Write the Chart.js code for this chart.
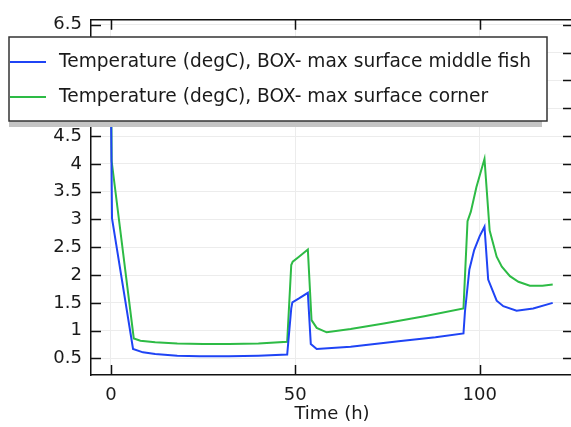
<!DOCTYPE html>
<html>
<head>
<meta charset="utf-8">
<script src="https://cdn.jsdelivr.net/npm/chart.js@4.4.1/dist/chart.umd.min.js"></script>
<style>
  html, body { margin: 0; padding: 0; overflow: hidden; background: #fff; }
  #wrap { position: absolute; left: 0; top: 0; width: 590px; height: 427px; }
</style>
</head>
<body>
<div id="wrap"><canvas id="tempChart" width="590" height="427"></canvas></div>
<script>
// ===============================
// Data
// ===============================
const seriesLabels = [
    "Temperature (degC), BOX- max surface middle fish",
    "Temperature (degC), BOX- max surface corner"
];

const blueTime = [0, 0.3, 6.0, 8.7, 12, 18, 24, 32, 40, 47.8, 48.9, 49.2, 51, 53.4, 54.2, 55.8, 65, 78, 88, 95.6, 96.0, 97.2, 98.5, 100, 101.3, 102.3, 104.6, 106.4, 110, 114.5, 119.8];
const blueTemp = [5.2, 3.02, 0.67, 0.61, 0.58, 0.55, 0.54, 0.54, 0.55, 0.57, 1.40, 1.51, 1.58, 1.68, 0.76, 0.67, 0.71, 0.81, 0.88, 0.95, 1.34, 2.10, 2.45, 2.70, 2.87, 1.92, 1.54, 1.44, 1.36, 1.40, 1.50];

const greenTime = [0, 0.2, 6.2, 8, 12, 18, 25, 32, 40, 47.8, 48.9, 49.3, 51, 53.4, 54.4, 55.8, 58.5, 65, 74, 85, 95.6, 96.7, 97.6, 99.1, 101.3, 102.7, 104.6, 106, 108.2, 110.5, 113.6, 117, 119.8];
const greenTemp = [6.2, 4.05, 0.86, 0.82, 0.79, 0.77, 0.76, 0.76, 0.77, 0.80, 2.18, 2.24, 2.33, 2.46, 1.19, 1.05, 0.97, 1.03, 1.13, 1.26, 1.40, 2.97, 3.14, 3.58, 4.09, 2.80, 2.33, 2.15, 1.98, 1.88, 1.81, 1.81, 1.83];

const xTicks = [0, 50, 100];
const yTicks = [0.5, 1, 1.5, 2, 2.5, 3, 3.5, 4, 4.5, 5, 5.5, 6, 6.5];

const BLUE = "#1f44f5";
const GREEN = "#2dbb45";
const FONT = "'DejaVu Sans', sans-serif";
const FONT_SIZE = 18;
const LEGEND_SIZE = 18.6;

function toPoints(xs, ys) {
    return xs.map((x, i) => ({ x: x, y: ys[i] }));
}

// ===============================
// Frame, inward ticks and legend box
// ===============================
const framePlugin = {
    id: "frame",
    afterDraw(chart) {
        const ctx = chart.ctx;
        const a = chart.chartArea;
        const xs = chart.scales.x;
        const ys = chart.scales.y;
        const tl = 10;

        ctx.save();
        ctx.strokeStyle = "#111";
        ctx.lineWidth = 1.5;
        ctx.beginPath();
        ctx.moveTo(a.left, a.top);
        ctx.lineTo(a.right, a.top);
        ctx.lineTo(a.right, a.bottom);
        ctx.stroke();

        ctx.beginPath();
        xTicks.forEach(v => {
            const px = Math.round(xs.getPixelForValue(v)) + 0.5;
            ctx.moveTo(px, a.bottom);
            ctx.lineTo(px, a.bottom - tl);
            ctx.moveTo(px, a.top);
            ctx.lineTo(px, a.top + tl);
        });
        yTicks.forEach(v => {
            const py = Math.round(ys.getPixelForValue(v)) + 0.5;
            ctx.moveTo(a.left, py);
            ctx.lineTo(a.left + tl, py);
            ctx.moveTo(a.right, py);
            ctx.lineTo(a.right - tl, py);
        });
        ctx.stroke();

        // legend
        const bx = 9, by = 37, bw = 538, bh = 84;
        ctx.fillStyle = "#c4c4c4";
        ctx.fillRect(bx, by + bh, bw - 5, 6);
        ctx.fillStyle = "#fff";
        ctx.fillRect(bx, by, bw, bh);
        ctx.strokeStyle = "#333";
        ctx.lineWidth = 1.5;
        ctx.strokeRect(bx, by, bw, bh);

        const rows = [62, 97];
        chart.data.datasets.forEach((ds, i) => {
            ctx.strokeStyle = ds.borderColor;
            ctx.lineWidth = 2;
            ctx.beginPath();
            ctx.moveTo(bx + 1, rows[i]);
            ctx.lineTo(46, rows[i]);
            ctx.stroke();
            ctx.fillStyle = "#1a1a1a";
            ctx.font = LEGEND_SIZE + "px " + FONT;
            ctx.textBaseline = "middle";
            ctx.textAlign = "left";
            ctx.fillText(ds.label, 59, rows[i]);
        });
        ctx.restore();
    }
};

const ctx = document.getElementById("tempChart").getContext("2d");

new Chart(ctx, {
    type: "line",
    data: {
        datasets: [
            {
                label: seriesLabels[0],
                data: toPoints(blueTime, blueTemp),
                borderColor: BLUE,
                borderWidth: 2,
                pointRadius: 0,
                tension: 0,
                fill: false
            },
            {
                label: seriesLabels[1],
                data: toPoints(greenTime, greenTemp),
                borderColor: GREEN,
                borderWidth: 2,
                pointRadius: 0,
                tension: 0,
                fill: false
            }
        ]
    },
    options: {
        responsive: false,
        animation: false,
        devicePixelRatio: 1,
        layout: { padding: { left: 0, right: 17, top: 10, bottom: 0 } },
        plugins: {
            legend: { display: false },
            tooltip: { enabled: false }
        },
        scales: {
            x: {
                type: "linear",
                min: -5.4,
                max: 125.3,
                afterBuildTicks(scale) {
                    scale.ticks = xTicks.map(v => ({ value: v }));
                },
                afterFit(scale) { scale.height = 52; },
                grid: { color: "#ececec", lineWidth: 1, drawTicks: false },
                border: { color: "#111", width: 1.5 },
                ticks: {
                    padding: 10,
                    maxRotation: 0,
                    color: "#1a1a1a",
                    font: { family: FONT, size: FONT_SIZE },
                    callback: v => String(v)
                },
                title: {
                    display: true,
                    text: "Time (h)",
                    color: "#1a1a1a",
                    font: { family: FONT, size: FONT_SIZE },
                    padding: { top: 0, bottom: 2 }
                }
            },
            y: {
                type: "linear",
                min: 0.203,
                max: 6.59,
                afterBuildTicks(scale) {
                    scale.ticks = yTicks.map(v => ({ value: v }));
                },
                afterFit(scale) { scale.width = 91; },
                grid: { color: "#ececec", lineWidth: 1, drawTicks: false },
                border: { color: "#111", width: 1.5 },
                ticks: {
                    padding: 9,
                    color: "#1a1a1a",
                    font: { family: FONT, size: FONT_SIZE },
                    callback: v => String(v)
                }
            }
        }
    },
    plugins: [framePlugin]
});
</script>
</body>
</html>
